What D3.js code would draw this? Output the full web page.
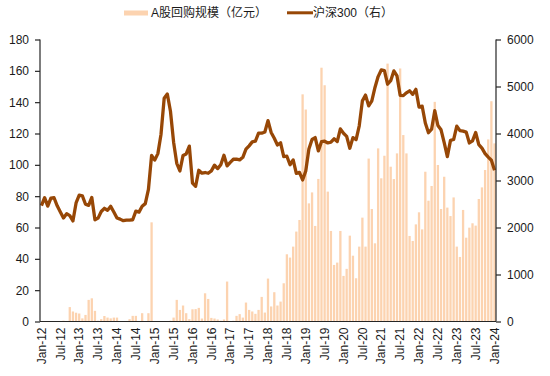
<html>
    <head>
        <meta charset="utf-8">
        <script src="https://d3js.org/d3.v7.min.js"></script>
        <style>
            body{ margin:0; background:#fff; }
            svg text{ font-family:"Liberation Sans", Arial, "Noto Sans CJK SC", sans-serif; font-size:12px; fill:#1a1a1a; }
        </style>
    </head>
    <body>
        <svg id="svg" width="550" height="376"></svg>
        <script>
            // months Jan-12 .. Jan-24
            var months = d3.timeMonth.range(new Date(2012, 0, 1), new Date(2024, 1, 1));
            var monthLabel = d3.timeFormat("%b-%y");

            // A-share buyback amount, 100m yuan (left axis)
            var buyback = [
                0,0,0,0,0,0,0,0.5,0,9.2,
                6.4,5.6,5.1,2,4.2,13.8,14.8,6.8,0.5,1.5,
                3.5,2.5,2,2.5,2.5,0,0,0,1.5,3.6,
                3.6,0,5.3,0,5.3,63.3,0,0,0,0,
                0,0.5,2.5,13.8,7.4,10.2,5.3,1.5,7.8,7.9,
                8.7,1.9,18,14.4,2.3,1.9,1.3,0.5,1.3,25.5,
                0.3,0.5,3.6,4.7,2.5,12.1,7.4,6.4,4.9,7.4,
                15.7,5.7,27.4,9.6,18.7,10.2,12.7,24.4,42.9,40.8,
                47.8,57.4,64.8,145,135.3,75.4,82.4,61,91,162,
                150.8,82.9,57.8,36.1,37.6,57.8,29.1,33.6,54.8,42,
                27.6,47.8,66.3,47.8,104,71.8,49.9,110.5,91.4,105.8,
                164.6,98.8,90.9,107.3,161.5,119,107.3,54.6,51.4,62,
                69.7,58.8,95.6,77.1,86.5,140.2,99.9,71.8,92.4,72.7,
                67.3,79.2,47.8,41.2,71.2,53.5,59.9,62.7,61.2,78.2,
                85.6,96.7,116.2,140.6,113.7
            ];

            // CSI 300 month-end (right axis)
            var csi300 = [
                2464,2634,2455,2626,2633,2462,2332,2204,2293,2254,2140,2523,
                2687,2673,2495,2470,2640,2164,2200,2340,2409,2367,2450,2331,
                2203,2178,2146,2159,2157,2165,2347,2327,2451,2508,2809,3533,
                3434,3572,3986,4749,4841,4473,3816,3366,3203,3534,3566,3731,
                2946,2877,3218,3156,3170,3154,3204,3327,3253,3336,3538,3311,
                3387,3452,3456,3439,3493,3666,3737,3822,3837,4006,4006,4031,
                4275,4023,3899,3756,3802,3510,3517,3335,3438,3153,3173,3011,
                3202,3670,3872,3913,3630,3826,3836,3799,3814,3886,3828,4097,
                4004,3940,3686,3912,3868,4164,4695,4817,4587,4695,4980,5211,
                5352,5336,5048,5123,5332,5224,4812,4806,4866,4909,4833,4940,
                4563,4581,4222,4016,4091,4485,4170,4079,3805,3508,3854,3872,
                4156,4061,4051,4030,3799,3842,4022,3765,3690,3573,3497,3431,
                3216
            ];

            var leftTicks = [0,20,40,60,80,100,120,140,160,180];
            var rightTicks = [0,1000,2000,3000,4000,5000,6000];

            var margin = {top: 39.5, right: 54, bottom: 54.5, left: 40};
            var svg = d3.select("svg");
            var width = +svg.attr("width") - margin.left - margin.right;
            var height = +svg.attr("height") - margin.top - margin.bottom;
            var g = svg.append("g").attr("transform", "translate(" + margin.left + "," + margin.top + ")");

            var x = d3.scaleBand().domain(d3.range(months.length)).range([0, width]).paddingInner(0.27).paddingOuter(0.1);
            var yL = d3.scaleLinear().domain([0, 180]).range([height, 0]);
            var yR = d3.scaleLinear().domain([0, 6000]).range([height, 0]);

            g.selectAll(".bar").data(buyback).enter().append("rect")
                .attr("class", "bar")
                .attr("x", function(d, i){ return x(i); })
                .attr("width", x.bandwidth())
                .attr("y", function(d){ return yL(d); })
                .attr("height", function(d){ return height - yL(d); })
                .attr("fill", "#fcd3b0");

            var line = d3.line()
                .x(function(d, i){ return x(i) + x.bandwidth() / 2; })
                .y(function(d){ return yR(d); })
                .curve(d3.curveLinear);

            g.append("path").datum(csi300)
                .attr("d", line)
                .attr("fill", "none")
                .attr("stroke", "#974706")
                .attr("stroke-width", 3.3)
                .attr("stroke-linejoin", "round");

            // axes
            var leftAxis = d3.axisLeft(yL).tickValues(leftTicks).tickSize(5).tickPadding(6);
            var rightAxis = d3.axisRight(yR).tickValues(rightTicks).tickSize(5).tickPadding(6).tickFormat(d3.format("d"));
            var bottomAxis = d3.axisBottom(x)
                .tickValues(d3.range(0, months.length, 6))
                .tickSize(0)
                .tickFormat(function(i){ return monthLabel(months[i]); });

            var gl = g.append("g").call(leftAxis);
            var gr = g.append("g").attr("transform", "translate(" + width + ",0)").call(rightAxis);
            var gb = g.append("g").attr("transform", "translate(0," + height + ")").call(bottomAxis);

            [gl, gr, gb].forEach(function(a){
                a.selectAll("path").attr("stroke", "#262626").attr("stroke-width", 1.2);
                a.selectAll("line").attr("stroke", "#262626").attr("stroke-width", 1.2);
                a.selectAll("text").attr("font-size", "12px").attr("fill", "#1a1a1a")
                    .style("font-family", "'Liberation Sans', Arial, sans-serif");
            });
            gl.select("path").attr("d", "M0," + height + "V0");
            gr.select("path").attr("d", "M0," + height + "V0");
            gb.select("path").attr("d", "M0,0H" + width);

            gb.selectAll("text")
                .attr("transform", "rotate(-90)")
                .attr("text-anchor", "end")
                .attr("x", -6)
                .attr("y", 0)
                .attr("dy", "0.35em");

            // legend
            var legend = svg.append("g");
            legend.append("rect").attr("x", 124).attr("y", 10.5).attr("width", 24).attr("height", 5).attr("fill", "#fcd3b0");
            legend.append("text").attr("x", 151).attr("y", 17).text("A股回购规模（亿元）");
            legend.append("line").attr("x1", 287).attr("x2", 313).attr("y1", 12.8).attr("y2", 12.8)
                .attr("stroke", "#974706").attr("stroke-width", 3);
            legend.append("text").attr("x", 313).attr("y", 17).text("沪深300（右）");
        </script>
    </body>
</html>
